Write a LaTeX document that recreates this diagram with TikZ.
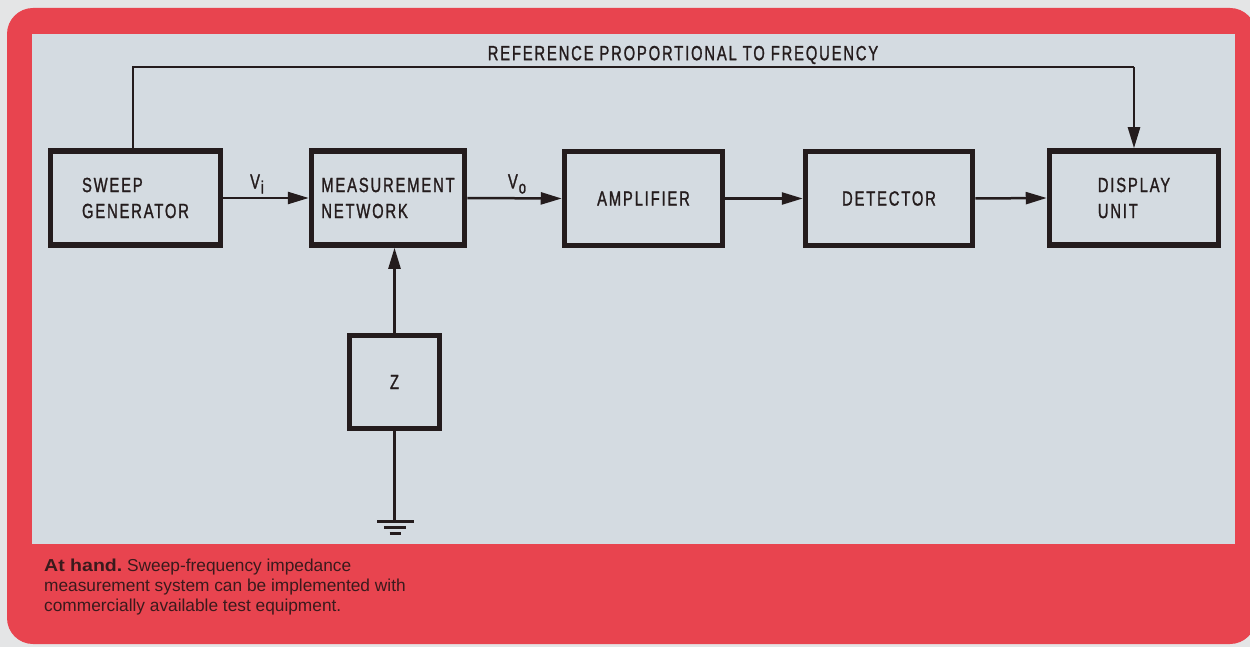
\documentclass[tikz,border=0pt]{standalone}
\usepackage{fontspec}
\setmainfont{Liberation Sans}
\newfontfamily\lab[FakeStretch=0.72,LetterSpace=9,FakeBold=1.2]{Liberation Sans}
\usetikzlibrary{arrows.meta}
\definecolor{pagebg}{HTML}{E4E5E6}
\definecolor{redbg}{HTML}{E8444F}
\definecolor{panel}{HTML}{D4DBE1}
\definecolor{ink}{HTML}{241C1D}
\definecolor{capink}{HTML}{3A1A1C}
\begin{document}
\begin{tikzpicture}[x=1pt,y=-1pt,
  blk/.style={draw=ink,line width=5.5pt,minimum height=94pt,inner sep=0pt,
    font=\lab\fontsize{20.5}{26}\selectfont,text=ink,align=left},
  conn/.style={draw=ink,line width=2.5pt,-{Triangle[length=21pt,width=12pt]}},
  wire/.style={draw=ink,line width=2.5pt},
  lbl/.style={font=\lab\fontsize{20.5}{20}\selectfont,text=ink,inner sep=0pt}]
\useasboundingbox (0,0) rectangle (1250,647);
\fill[pagebg] (0,0) rectangle (1250,647);
\fill[redbg,rounded corners=26pt] (7,8) rectangle (1256,644);
\fill[panel] (32,34) rectangle (1235,544);

\node[blk,minimum width=170pt] (gen) at (135.5,198) {SWEEP\\GENERATOR};
\node[blk,minimum width=153pt] (meas) at (388,198) {MEASUREMENT\\NETWORK};
\node[blk,minimum width=158pt] (amp) at (643.5,198.5) {AMPLIFIER};
\node[blk,minimum width=167pt] (det) at (889,198.5) {DETECTOR};
\node[blk,minimum width=169pt] (disp) at (1134,198) {DISPLAY\\UNIT};
\node[blk,minimum width=90pt,minimum height=93pt] (z) at (394.5,382) {Z};

\coordinate (t1) at (133,67);
\coordinate (t2) at (1134,67);
\draw[wire] (gen.north -| t1) -- (t1) -- (t2);
\draw[conn] (t2) -- (disp.north);
\node[lbl] (ref) at (683,55) {REFERENCE PROPORTIONAL TO FREQUENCY};

\draw[conn] (gen.east) -- (meas.west);
\draw[conn] (meas.east) -- (amp.west);
\draw[conn] (amp.east) -- (det.west);
\draw[conn] (det.east) -- (disp.west);
\node[lbl] (vi) at (257,184) {V\kern1pt\raisebox{-5pt}{\fontsize{18}{18}\selectfont i}};
\node[lbl] (vo) at (517,184) {V\kern1pt\raisebox{-5pt}{\fontsize{18}{18}\selectfont o}};

\draw[conn] (z.north) -- (z.north |- meas.south);

\coordinate (gnd) at (395,521);
\draw[wire] (z.south) -- (z.south |- gnd);
\draw[ink,line width=3pt] (377,521) -- (414,521);
\draw[ink,line width=3pt] (384,527) -- (406,527);
\draw[ink,line width=3pt] (389.5,533) -- (400.5,533);

\node[anchor=north west,inner sep=0pt,align=left,text=capink,
  font=\fontsize{17.3}{19.8}\selectfont] (cap) at (44,559)
  {\scalebox{1.13}[1]{\textbf{At hand.}} Sweep-frequency impedance\\
   measurement system can be implemented with\\
   commercially available test equipment.};
\end{tikzpicture}
\end{document}
